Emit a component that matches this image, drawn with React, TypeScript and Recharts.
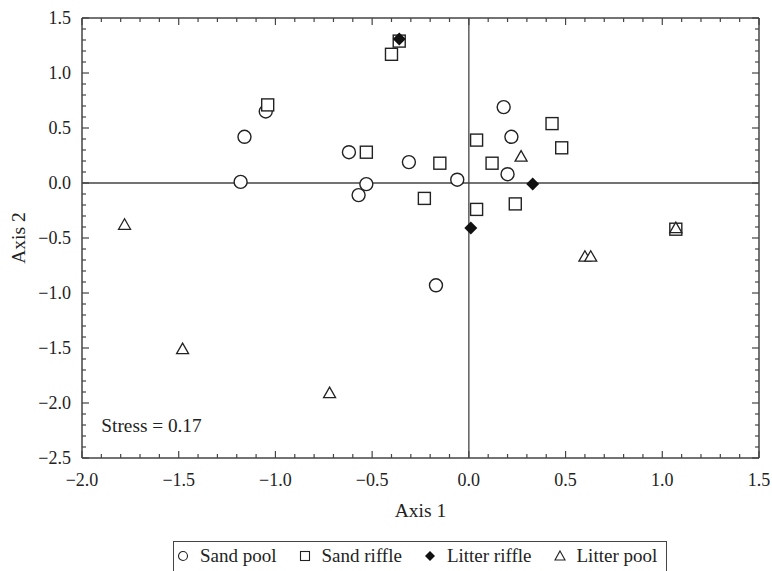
import React from 'react';
import { ScatterChart, Scatter, XAxis, YAxis, ReferenceLine, ReferenceDot } from 'recharts';

// NMDS ordination scores (Axis 1, Axis 2) per habitat
const sandPool = [
  { x: -1.18, y: 0.01 }, { x: -1.16, y: 0.42 }, { x: -1.05, y: 0.65 },
  { x: -0.62, y: 0.28 }, { x: -0.57, y: -0.11 }, { x: -0.53, y: -0.01 },
  { x: -0.31, y: 0.19 }, { x: -0.06, y: 0.03 }, { x: 0.18, y: 0.69 },
  { x: 0.22, y: 0.42 }, { x: 0.2, y: 0.08 }, { x: -0.17, y: -0.93 },
];
const sandRiffle = [
  { x: -1.04, y: 0.71 }, { x: -0.4, y: 1.17 }, { x: -0.36, y: 1.29 },
  { x: -0.53, y: 0.28 }, { x: -0.15, y: 0.18 }, { x: -0.23, y: -0.14 },
  { x: 0.04, y: 0.39 }, { x: 0.12, y: 0.18 }, { x: 0.43, y: 0.54 },
  { x: 0.48, y: 0.32 }, { x: 0.04, y: -0.24 }, { x: 0.24, y: -0.19 },
  { x: 1.07, y: -0.42 },
];
const litterRiffle = [
  { x: -0.36, y: 1.31 }, { x: 0.33, y: -0.01 }, { x: 0.01, y: -0.41 },
];
const litterPool = [
  { x: -1.78, y: -0.38 }, { x: -1.48, y: -1.51 }, { x: -0.72, y: -1.91 },
  { x: 0.27, y: 0.24 }, { x: 0.6, y: -0.67 }, { x: 0.63, y: -0.67 },
  { x: 1.07, y: -0.41 },
];

const X_DOMAIN: [number, number] = [-2, 1.5];
const Y_DOMAIN: [number, number] = [-2.5, 1.5];
const STRESS = 'Stress = 0.17';

const W = 772;
const H = 571;
const M = { top: 18, right: 13, left: 0, bottom: 0 };
const Y_AXIS_W = 82;
const X_AXIS_H = 113;
const PLOT_LEFT = M.left + Y_AXIS_W;
const PLOT_RIGHT = W - M.right;
const PLOT_TOP = M.top;
const PLOT_BOTTOM = H - M.bottom - X_AXIS_H;

const FONT = '"Liberation Serif", "Times New Roman", serif';
const INK = '#222';
const LINE = '#444';

// every 0.1 gets a tick, every 0.5 gets a label
const makeTicks = (lo: number, hi: number) => {
  const out: number[] = [];
  for (let i = Math.round(lo * 10); i <= Math.round(hi * 10); i++) out.push(i / 10);
  return out;
};
const xTicks = makeTicks(X_DOMAIN[0], X_DOMAIN[1]);
const yTicks = makeTicks(Y_DOMAIN[0], Y_DOMAIN[1]);

const isMajor = (v: number) => Math.abs(v * 2 - Math.round(v * 2)) < 1e-6;
const fmt = (v: number) => (v < -1e-9 ? '\u2212' + Math.abs(v).toFixed(1) : Math.abs(v).toFixed(1));

const XTick = (props: any) => {
  const { x, payload } = props;
  const v = payload.value;
  const len = isMajor(v) ? 7 : 4;
  return (
    <g>
      <line x1={x} x2={x} y1={PLOT_BOTTOM} y2={PLOT_BOTTOM - len} stroke={LINE} strokeWidth={1.2} />
      <line x1={x} x2={x} y1={PLOT_TOP} y2={PLOT_TOP + len} stroke={LINE} strokeWidth={1.2} />
      {isMajor(v) && (
        <text x={x} y={PLOT_BOTTOM + 22} textAnchor="middle" dominantBaseline="central"
          fontFamily={FONT} fontSize={18} fill={INK}>{fmt(v)}</text>
      )}
    </g>
  );
};

const YTick = (props: any) => {
  const { y, payload } = props;
  const v = payload.value;
  const len = isMajor(v) ? 7 : 4;
  return (
    <g>
      <line x1={PLOT_LEFT} x2={PLOT_LEFT + len} y1={y} y2={y} stroke={LINE} strokeWidth={1.2} />
      <line x1={PLOT_RIGHT} x2={PLOT_RIGHT - len} y1={y} y2={y} stroke={LINE} strokeWidth={1.2} />
      {isMajor(v) && (
        <text x={PLOT_LEFT - 11} y={y} textAnchor="end" dominantBaseline="central"
          fontFamily={FONT} fontSize={18} fill={INK}>{fmt(v)}</text>
      )}
    </g>
  );
};

const Circle = ({ cx, cy }: any) => (
  <circle cx={cx} cy={cy} r={6.5} fill="#fff" stroke={INK} strokeWidth={1.4} />
);
const Square = ({ cx, cy }: any) => (
  <rect x={cx - 6} y={cy - 6} width={12} height={12} fill="#fff" stroke={INK} strokeWidth={1.4} />
);
const Diamond = ({ cx, cy }: any) => (
  <path d={`M${cx},${cy - 6.5}L${cx + 6.5},${cy}L${cx},${cy + 6.5}L${cx - 6.5},${cy}Z`} fill="#111" />
);
const Triangle = ({ cx, cy }: any) => (
  <path d={`M${cx},${cy - 6}L${cx + 6},${cy + 4.5}L${cx - 6},${cy + 4.5}Z`} fill="#fff" stroke={INK} strokeWidth={1.3} />
);

const legendItems = [
  { name: 'Sand pool', icon: <circle cx={6} cy={7} r={4.5} fill="#fff" stroke={INK} strokeWidth={1.1} /> },
  { name: 'Sand riffle', icon: <rect x={1.5} y={2.5} width={9} height={9} fill="#fff" stroke={INK} strokeWidth={1.1} /> },
  { name: 'Litter riffle', icon: <path d="M6,2L11,7L6,12L1,7Z" fill="#111" /> },
  { name: 'Litter pool', icon: <path d="M6,2L11,11L1,11Z" fill="#fff" stroke={INK} strokeWidth={1.1} /> },
];

export default function App() {
  return (
    <div style={{ position: 'absolute', left: 0, top: 0, width: W, height: H, background: '#fff', overflow: 'hidden' }}>
      <ScatterChart width={W} height={H} margin={M}>
        <XAxis
          type="number" dataKey="x" domain={X_DOMAIN} ticks={xTicks} interval={0}
          allowDataOverflow height={X_AXIS_H} tickLine={false} tick={<XTick />}
          axisLine={{ stroke: LINE, strokeWidth: 1.5 }}
          label={({ viewBox }: any) => (
            <text x={viewBox.x + viewBox.width / 2} y={510} textAnchor="middle" dominantBaseline="central"
              fontFamily={FONT} fontSize={19.5} fill={INK}>Axis 1</text>
          )}
        />
        <YAxis
          type="number" dataKey="y" domain={Y_DOMAIN} ticks={yTicks} interval={0}
          allowDataOverflow width={Y_AXIS_W} tickLine={false} tick={<YTick />}
          axisLine={{ stroke: LINE, strokeWidth: 1.5 }}
          label={({ viewBox }: any) => {
            const cy = viewBox.y + viewBox.height / 2;
            return (
              <text x={18} y={cy} transform={`rotate(-90 18 ${cy})`} textAnchor="middle" dominantBaseline="central"
                fontFamily={FONT} fontSize={19.5} fill={INK}>Axis 2</text>
            );
          }}
        />
        <ReferenceLine y={Y_DOMAIN[1]} stroke={LINE} strokeWidth={1.5} />
        <ReferenceLine x={X_DOMAIN[1]} stroke={LINE} strokeWidth={1.5} />
        <ReferenceLine x={0} stroke={LINE} strokeWidth={1.3} />
        <ReferenceLine y={0} stroke={LINE} strokeWidth={1.3} />
        <ReferenceDot
          x={-1.9} y={-2.2} r={0}
          shape={({ cx, cy }: any) => (
            <text x={cx} y={cy} dominantBaseline="central" fontFamily={FONT} fontSize={19.3} fill={INK}>{STRESS}</text>
          )}
        />
        <Scatter name="Sand pool" data={sandPool} shape={<Circle />} isAnimationActive={false} />
        <Scatter name="Sand riffle" data={sandRiffle} shape={<Square />} isAnimationActive={false} />
        <Scatter name="Litter riffle" data={litterRiffle} shape={<Diamond />} isAnimationActive={false} />
        <Scatter name="Litter pool" data={litterPool} shape={<Triangle />} isAnimationActive={false} />
      </ScatterChart>
      <div style={{
        position: 'absolute', left: 173, top: 541, width: 494, height: 34, boxSizing: 'border-box',
        border: `1px solid ${LINE}`, display: 'flex', alignItems: 'flex-start', paddingTop: 3, paddingLeft: 3,
        fontFamily: FONT, fontSize: 19, color: INK, whiteSpace: 'nowrap',
      }}>
        {legendItems.map((it) => (
          <span key={it.name} style={{ display: 'inline-flex', alignItems: 'center', marginRight: 22 }}>
            <svg width={12} height={14} style={{ marginRight: 11 }}>{it.icon}</svg>
            {it.name}
          </span>
        ))}
      </div>
    </div>
  );
}
